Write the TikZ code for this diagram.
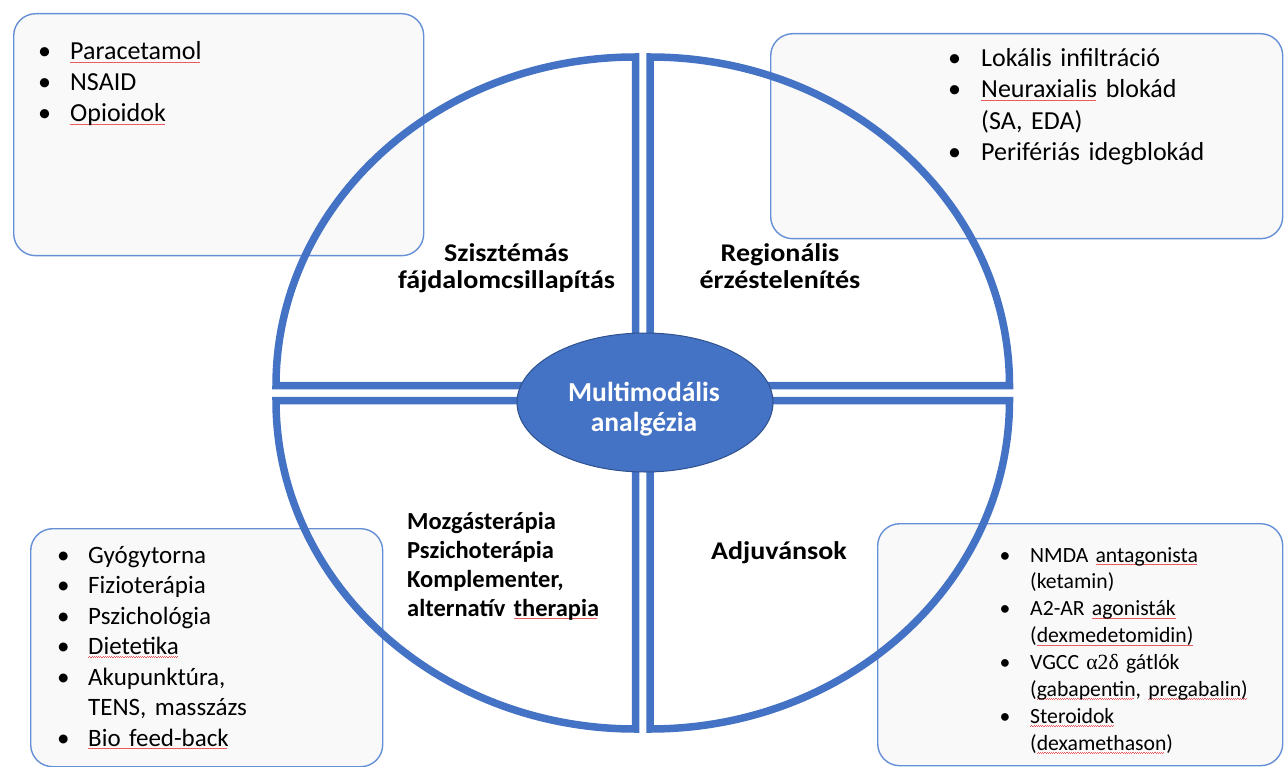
\documentclass[tikz,border=0pt]{standalone}
\usepackage{fontspec}
\setmainfont{Carlito}
\newfontfamily\greekserif{Liberation Serif}
\usetikzlibrary{shapes.geometric}

\definecolor{secblue}{HTML}{4472C4}
\definecolor{hubedge}{HTML}{2F528F}
\definecolor{boxline}{HTML}{6690D6}
\definecolor{boxfill}{HTML}{F9F9F9}
\definecolor{spellred}{HTML}{EC5A62}

% red wavy underline used under flagged words
\newcommand\spellmark[1]{\leavevmode\setbox0\hbox{#1}%
  \rlap{\lower3.0pt\hbox to\wd0{\color{spellred}\leaders\hbox to 2.2pt{%
    \rule{1.1pt}{0.55pt}\raise0.6pt\hbox{\rule{1.1pt}{0.55pt}}}\hfill}}\box0\relax}

% bullet hanging to the left of the text start
\newlength\bulletgap
\newcommand\bul{\leavevmode\llap{\makebox[\bulletgap][l]{\textbullet}}}

% slightly widened bold title lines
\newcommand\wideline[1]{\scalebox{1.1}[1]{#1}}

\begin{document}
\begin{tikzpicture}[x=1pt,y=-1pt,
  infobox/.style={draw=boxline, line width=1.4pt, fill=boxfill, rounded corners=22pt,
    inner sep=0pt, anchor=north west},
  sector/.style={draw=secblue, line width=7.5pt, line join=miter},
  listtext/.style={anchor=base west, inner sep=0pt, align=left, text width=360pt},
  quadlabel/.style={anchor=base, inner sep=0pt, align=center, text width=300pt,
    font=\bfseries\fontsize{25.5}{26.7}\selectfont},
]
\useasboundingbox (0,0) rectangle (1284,767);

% ---- information boxes ----
\node[infobox, minimum width=410pt, minimum height=242pt] (sysbox) at (13,13) {};
\node[infobox, minimum width=512pt, minimum height=205pt] (regbox) at (770,33) {};
\node[infobox, minimum width=352pt, minimum height=238pt] (movbox) at (30,528) {};
\node[infobox, minimum width=405pt, minimum height=242pt] (adjbox) at (877,523) {};

% ---- four quadrants of the circle ----
\draw[sector] (635.5,385.5) -- (276,385.5)
  arc[start angle=180, end angle=270, x radius=359.5, y radius=328.5] -- cycle;
\draw[sector] (650,385.5) -- (650,57)
  arc[start angle=270, end angle=360, x radius=359.5, y radius=328.5] -- cycle;
\draw[sector] (650,400.5) -- (1009.5,400.5)
  arc[start angle=0, end angle=90, x radius=359.5, y radius=328.5] -- cycle;
\draw[sector] (635.5,400.5) -- (635.5,729)
  arc[start angle=90, end angle=180, x radius=359.5, y radius=328.5] -- cycle;

% ---- central hub ----
\node[ellipse, fill=secblue, draw=hubedge, line width=1pt,
  minimum width=256pt, minimum height=139pt] (hub) at (645,402.5) {};
\node[anchor=base, inner sep=0pt, align=center, text width=250pt, text=white,
  font=\bfseries\fontsize{27.5}{30}\selectfont] (hublabel) at (644,401.7)
  {Multimodális\\analgézia};

% ---- quadrant titles ----
\node[quadlabel] (systitle) at (506.5,261.7)
  {\wideline{Szisztémás}\\\wideline{fájdalomcsillapítás}};
\node[quadlabel] (regtitle) at (780,261.7)
  {\wideline{Regionális}\\\wideline{érzéstelenítés}};
\node[anchor=base west, inner sep=0pt, align=left, text width=260pt,
  font=\bfseries\fontsize{24.5}{29}\selectfont] (movtitle) at (407,529)
  {Mozgásterápia\\Pszichoterápia\\Komplementer,\\alternatív \spellmark{therapia}};
\node[anchor=base, inner sep=0pt, font=\bfseries\fontsize{25.5}{29}\selectfont]
  (adjtitle) at (779,559) {\wideline{Adjuvánsok}};

% ---- lists ----
\node[listtext, font=\fontsize{26}{31}\selectfont] (syslist) at (70,60)
  {\setlength\bulletgap{32pt}%
   \bul\spellmark{Paracetamol}\\
   \bul NSAID\\
   \bul\spellmark{Opioidok}};

\node[listtext, font=\fontsize{26}{31.2}\selectfont] (reglist) at (981,66.7)
  {\setlength\bulletgap{33pt}%
   \bul Lokális infiltráció\\
   \bul\spellmark{Neuraxialis} blokád\\
   (SA, EDA)\\
   \bul Perifériás idegblokád};

\node[listtext, font=\fontsize{25}{30.5}\selectfont] (movlist) at (88,563)
  {\setlength\bulletgap{31pt}%
   \bul Gyógytorna\\
   \bul Fizioterápia\\
   \bul Pszichológia\\
   \bul\spellmark{Dietetika}\\
   \bul Akupunktúra,\\
   TENS, masszázs\\
   \bul\spellmark{Bio feed-back}};

\node[listtext, font=\fontsize{21.7}{26.9}\selectfont] (adjlist) at (1030,562)
  {\setlength\bulletgap{30.5pt}%
   \bul NMDA \spellmark{antagonista}\\
   (ketamin)\\
   \bul A2-AR \spellmark{agonisták}\\
   (\spellmark{dexmedetomidin)}\\
   \bul VGCC {\greekserif α2δ} gátlók\\
   (\spellmark{gabapentin}, \spellmark{pregabalin)}\\
   \bul\spellmark{Steroidok}\\
   (\spellmark{dexamethason})};
\end{tikzpicture}
\end{document}
